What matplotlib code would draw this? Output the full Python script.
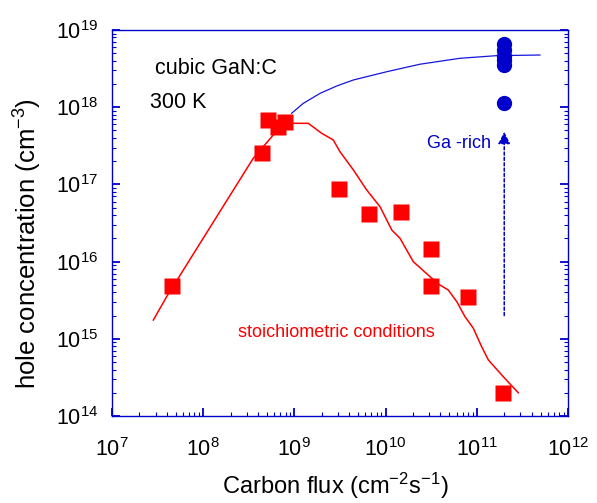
import matplotlib
matplotlib.use('Agg')
import matplotlib.pyplot as plt
import numpy as np
from matplotlib.ticker import LogLocator

plt.rcParams['font.family'] = ['Liberation Sans', 'DejaVu Sans']
plt.rcParams['mathtext.fontset'] = 'custom'
plt.rcParams['mathtext.rm'] = 'Liberation Sans'
plt.rcParams['mathtext.it'] = 'Liberation Sans:italic'
plt.rcParams['mathtext.default'] = 'regular'

# measured points, stoichiometric conditions (squares)
stoich_flux = [4.55e7, 4.4e8, 5.1e8, 6.56e8, 7.9e8, 3.08e9, 6.6e9, 1.47e10, 3.12e10, 3.12e10, 8.0e10, 1.92e11]
stoich_conc = [4.8e15, 2.55e17, 6.8e17, 5.6e17, 6.5e17, 8.7e16, 4.1e16, 4.4e16, 1.46e16, 4.8e15, 3.5e15, 1.97e14]

# model curve, stoichiometric
stoich_fit_flux = [2.84e7, 3.98e7, 3.54e8, 5.87e8, 9.72e8, 1.42e9, 1.99e9, 2.67e9, 3.16e9, 4.43e9,
                   6.21e9, 8.69e9, 1.17e10, 1.44e10, 2.01e10, 3.07e10, 3.94e10, 4.86e10, 6.03e10,
                   7.43e10, 9.16e10, 1.13e11, 1.34e11, 1.95e11, 2.85e11]
stoich_fit_conc = [1.75e15, 3.52e15, 2.18e17, 4.37e17, 6.18e17, 6.18e17, 4.59e17, 3.76e17, 2.65e17, 1.54e17,
                   8.45e16, 5.14e16, 2.56e16, 2.00e16, 9.98e15, 6.37e15, 4.98e15, 4.29e15, 3.03e15,
                   1.93e15, 1.37e15, 7.91e14, 5.31e14, 3.23e14, 2.00e14]

# model curve, Ga-rich
garich_fit_flux = [9.33e8, 1.25e9, 1.91e9, 2.91e9, 4.43e9, 1.03e10, 2.38e10, 6.55e10, 1.65e11, 4.93e11]
garich_fit_conc = [8.34e17, 1.12e18, 1.51e18, 1.88e18, 2.25e18, 2.88e18, 3.60e18, 4.30e18, 4.65e18, 4.74e18]

# measured points, Ga-rich (circles)
garich_flux = [2e11, 2e11, 2e11, 2e11, 2e11, 2e11]
garich_conc = [6.6e18, 5.5e18, 4.6e18, 4.1e18, 3.5e18, 1.12e18]

# Ga-rich arrow
arrow_flux = 2e11
arrow_from = 2.0e15
arrow_to = 4.8e17

blue = '#0000cc'

fig = plt.figure(figsize=(5.97, 5.03), dpi=100)
ax = fig.add_axes([0.1876, 0.1730, 0.7638, 0.7674])
ax.set_xscale('log')
ax.set_yscale('log')
ax.set_xlim(1e7, 1e12)
ax.set_ylim(1e14, 1e19)

ax.plot(stoich_fit_flux, stoich_fit_conc, '-', color='red', lw=1.1)
ax.plot(garich_fit_flux, garich_fit_conc, '-', color='#1515dd', lw=0.9)
ax.plot(stoich_flux, stoich_conc, 's', color='red', ms=11.5, mec='none')
ax.plot(garich_flux, garich_conc, 'o', color=blue, ms=11, mec='none')

ax.annotate('', xy=(arrow_flux, arrow_to), xytext=(arrow_flux, arrow_from),
            arrowprops=dict(arrowstyle='-|>', color=blue, lw=1.1, ls=(0, (2, 1.5)),
                            mutation_scale=18, shrinkA=0, shrinkB=0))

ax.text(0.094, 0.886, 'cubic GaN:C', transform=ax.transAxes, fontsize=15.5, va='baseline')
ax.text(0.083, 0.798, '300 K', transform=ax.transAxes, fontsize=15.5, va='baseline')
ax.text(0.691, 0.6935, 'Ga -rich', transform=ax.transAxes, fontsize=13, color=blue, va='baseline')
ax.text(0.2757, 0.204, 'stoichiometric conditions', transform=ax.transAxes, fontsize=13,
        color='red', va='baseline')

for s in ax.spines.values():
    s.set_color(blue)
    s.set_linewidth(1.0)

ax.xaxis.set_minor_locator(LogLocator(base=10, subs=np.arange(2, 10), numticks=100))
ax.yaxis.set_minor_locator(LogLocator(base=10, subs=np.arange(2, 10), numticks=100))
ax.tick_params(which='both', direction='in', top=False, right=True, color=blue, labelcolor='black')
ax.tick_params(which='major', length=6, width=1.3, labelsize=15.5)
ax.tick_params(which='minor', length=3, width=0.8)
ax.tick_params(axis='x', which='major', pad=16)
ax.tick_params(axis='y', which='major', pad=10)

fig.text(335 / 597, (503 - 494) / 503, 'Carbon flux (cm$^{-2}$s$^{-1}$)', fontsize=17,
         ha='center', va='baseline')
fig.text(28 / 597, (503 - 244) / 503, 'hole concentration (cm$^{-3}$)', fontsize=18.5,
         rotation=90, ha='center', va='center')

fig.savefig('out.png', dpi=100)
